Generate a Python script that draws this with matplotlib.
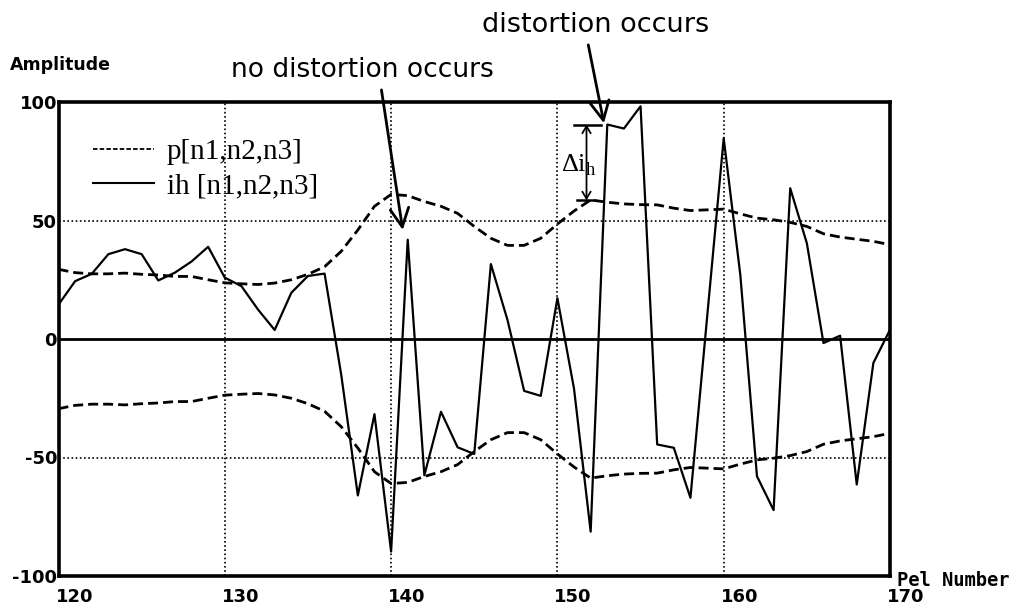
import numpy as np
import matplotlib.pyplot as plt
import matplotlib.transforms as mtransforms
from matplotlib.lines import Line2D

# pel positions along the scan line
pels = np.arange(120, 171)

# decoded signal i_h[n1,n2,n3]
ih = [14.5, 24.4, 27.5, 35.8, 37.9, 35.8, 24.7, 28.0, 32.7, 38.9,
      25.9, 22.3, 12.4, 3.8, 19.5, 26.6, 27.6, -15.0, -66.0, -31.7,
      -89.7, 41.9, -57.5, -30.7, -45.7, -48.5, 31.6, 8.0, -21.9, -24.0,
      17.2, -21.0, -81.3, 90.5, 88.8, 98.2, -44.5, -45.9, -67.0, 9.0,
      84.7, 27.0, -57.9, -72.2, 63.6, 40.4, -1.7, 1.4, -61.4, -10.1,
      3.9]

# masking envelope p[n1,n2,n3] (drawn as +p and -p)
p = [29.4, 28.0, 27.5, 27.5, 27.8, 27.3, 27.0, 26.4, 26.4, 25.0,
     23.7, 23.3, 23.0, 23.6, 25.0, 27.3, 30.5, 37.0, 46.0, 56.0,
     61.0, 60.5, 58.0, 56.0, 53.0, 47.5, 42.5, 39.5, 39.5, 42.5,
     48.5, 54.0, 58.7, 57.7, 57.0, 56.7, 56.6, 55.2, 54.2, 54.5,
     54.8, 52.8, 51.0, 50.3, 49.2, 47.5, 44.4, 43.0, 42.1, 41.2,
     39.8]

xticks = [120, 130, 140, 150, 160, 170]
yticks = [-100, -50, 0, 50, 100]

W, H = 1015, 608
fig = plt.figure(figsize=(W / 100, H / 100), dpi=100)
ax = fig.add_axes([58.5 / W, 1 - 576 / H, (890 - 58.5) / W, (576 - 102) / H])

p = np.array(p)
dash = (0, (3.6, 1.8))
ax.plot(pels, p, color="black", lw=2.0, linestyle=dash)
ax.plot(pels, -p, color="black", lw=2.0, linestyle=dash)
ax.plot(pels, ih, color="black", lw=1.6)

# grid: dotted at interior ticks, solid zero line
for xv in xticks[1:-1]:
    ax.axvline(xv, color="black", lw=1.2, linestyle=(0, (1, 1.5)), zorder=0)
for yv in (-50, 50):
    ax.axhline(yv, color="black", lw=1.2, linestyle=(0, (1, 1.5)), zorder=0)
ax.axhline(0, color="black", lw=2.0, zorder=1)

ax.set_xlim(120, 170)
ax.set_ylim(-100, 100)
for s in ax.spines.values():
    s.set_linewidth(2.6)

ax.set_xticks(xticks)
ax.set_xticklabels([str(v) for v in xticks], ha="left")
ax.set_yticks(yticks)
ax.set_yticklabels([str(v) for v in yticks])
ax.tick_params(length=0, labelsize=13)
ax.tick_params(axis="y", pad=1)
ax.tick_params(axis="x", pad=9)
shift = mtransforms.ScaledTranslation(-3 / 100, 0, fig.dpi_scale_trans)
for lab in ax.get_xticklabels():
    lab.set_fontweight("bold")
    lab.set_transform(lab.get_transform() + shift)
for lab in ax.get_yticklabels():
    lab.set_fontweight("bold")

fig.text(10 / W, 1 - 65 / H, "Amplitude", fontsize=12.5, fontweight="bold",
         va="center", ha="left")
fig.text(897 / W, 1 - 580 / H, "Pel Number", fontsize=13.5, fontweight="bold",
         va="center", ha="left", family="DejaVu Sans Mono")

# legend
handles = [Line2D([], [], color="black", lw=1.3, linestyle=(0, (2.5, 1.2))),
           Line2D([], [], color="black", lw=1.5)]
ax.legend(handles, ["p[n1,n2,n3]", "ih [n1,n2,n3]"],
          loc="upper left", bbox_to_anchor=(0.027, 0.947),
          frameon=False, handlelength=2.1, handletextpad=0.45,
          labelspacing=0.25, borderaxespad=0,
          prop={"family": "Liberation Serif", "size": 21})

# annotations
arrow = dict(arrowstyle="->, head_length=0.7, head_width=0.35", color="black",
             lw=2, shrinkA=3, shrinkB=0)
ax.annotate("no distortion occurs", xy=(140.7, 46),
            xytext=(362 / W, 1 - 70 / H), textcoords="figure fraction",
            ha="center", va="center", fontsize=19,
            arrowprops=dict(arrow, relpos=(0.57, 0)))
ax.annotate("distortion occurs", xy=(152.8, 91),
            xytext=(596 / W, 1 - 25 / H), textcoords="figure fraction",
            ha="center", va="center", fontsize=19.5,
            arrowprops=dict(arrow, relpos=(0.46, 0)))

# delta i_h measurement between envelope and distorted sample
ax.annotate("", xy=(151.75, 90.5), xytext=(151.75, 58.5),
            arrowprops=dict(arrowstyle="<->, head_length=0.5, head_width=0.3",
                            color="black", lw=1.3, shrinkA=0, shrinkB=0))
ax.plot([151.0, 152.6], [90.5, 90.5], color="black", lw=1.8)
ax.plot([151.2, 152.2], [58.5, 58.5], color="black", lw=1.8)
ax.text(151.3, 73.5, "Δi$_\\mathregular{h}$", ha="center", va="center",
        fontsize=19, family="Liberation Serif")

fig.savefig("out.png", dpi=100)
